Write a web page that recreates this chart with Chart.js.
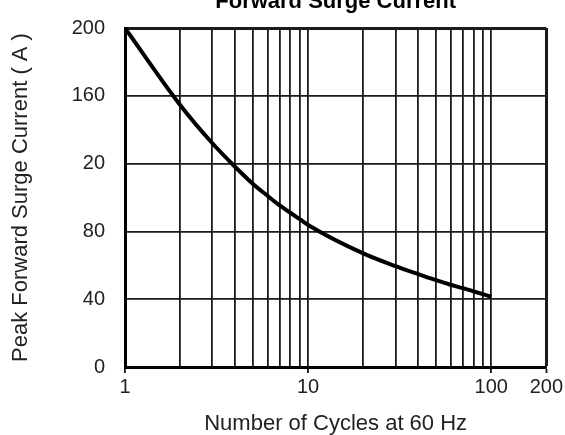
<!DOCTYPE html>
<html>
<head>
<meta charset="utf-8">
<script src="https://cdn.jsdelivr.net/npm/chart.js@4/dist/chart.umd.min.js"></script>
<style>
html,body{margin:0;padding:0;width:565px;height:435px;overflow:hidden;background:#fff;}
#wrap{position:absolute;left:0;top:-14px;}
</style>
</head>
<body>
<div id="wrap"><canvas id="c" width="565" height="449"></canvas></div>
<script>
// Data
const cycles = [1, 2, 3, 4, 5, 6, 7, 8, 9, 10, 20, 30, 40, 50, 60, 70, 80, 90, 100];
const surgeCurrent = [200, 154.6, 132, 118, 108, 101, 95.3, 91, 87.2, 83.8, 67, 59.5, 54.8, 51.2, 48.5, 46.5, 44.6, 43.0, 41.5];
const xGridValues = [1, 2, 3, 4, 5, 6, 7, 8, 9, 10, 20, 30, 40, 50, 60, 70, 80, 90, 100, 200];
const xTickLabels = {1: '1', 10: '10', 100: '100', 200: '200'};
const yTickValues = [0, 40, 80, 120, 160, 200];
const yTickLabels = ['0', '40', '80', '20', '160', '200'];

const FONT = "'Liberation Sans', Arial, sans-serif";

new Chart(document.getElementById('c'), {
  type: 'line',
  data: {
    datasets: [{
      data: cycles.map((x, i) => ({x: x, y: surgeCurrent[i]})),
      borderColor: '#000',
      borderWidth: 4,
      pointRadius: 0,
      fill: false,
      cubicInterpolationMode: 'monotone'
    }]
  },
  options: {
    responsive: false,
    animation: false,
    layout: {padding: {left: 0, right: 17, top: 0, bottom: 0}},
    plugins: {
      legend: {display: false},
      tooltip: {enabled: false},
      title: {
        display: true,
        fullSize: false,
        text: 'Forward Surge Current',
        color: '#000',
        font: {family: FONT, size: 22, weight: 'bold', lineHeight: 1.2},
        padding: {top: 3, bottom: 12.6}
      }
    },
    scales: {
      x: {
        type: 'logarithmic',
        min: 1,
        max: 200,
        afterBuildTicks: (s) => { s.ticks = xGridValues.map(v => ({value: v})); },
        afterFit: (s) => { s.height = 68; },
        ticks: {
          autoSkip: false,
          maxRotation: 0,
          padding: 2,
          color: '#222',
          font: {family: FONT, size: 20},
          callback: (v) => xTickLabels[v] !== undefined ? xTickLabels[v] : ''
        },
        grid: {
          color: '#1a1a1a',
          lineWidth: (ctx) => (ctx.tick && ctx.tick.value === 200) ? 3 : 1.8,
          tickLength: 6,
          tickColor: (ctx) => (ctx.tick && xTickLabels[ctx.tick.value] !== undefined) ? '#111' : 'rgba(0,0,0,0)',
          tickWidth: 1.8
        },
        border: {display: true, color: '#000', width: 3},
        title: {
          display: true,
          text: 'Number of Cycles at 60 Hz',
          color: '#222',
          font: {family: FONT, size: 22, lineHeight: 1},
          padding: {top: 0, bottom: 0}
        }
      },
      y: {
        min: 0,
        max: 200,
        afterBuildTicks: (s) => { s.ticks = yTickValues.map(v => ({value: v})); },
        afterFit: (s) => { s.width = 125; },
        ticks: {
          padding: 20,
          color: '#222',
          font: {family: FONT, size: 20},
          callback: (v) => { const i = yTickValues.indexOf(v); return i >= 0 ? yTickLabels[i] : ''; }
        },
        grid: {
          color: '#1a1a1a',
          lineWidth: (ctx) => (ctx.tick && ctx.tick.value === 200) ? 3 : 1.8,
          drawTicks: false
        },
        border: {display: true, color: '#000', width: 3},
        title: {
          display: true,
          text: 'Peak Forward Surge Current ( A )',
          color: '#222',
          font: {family: FONT, size: 22, lineHeight: 1.2},
          padding: {top: 8, bottom: 0}
        }
      }
    }
  }
});
</script>
</body>
</html>
